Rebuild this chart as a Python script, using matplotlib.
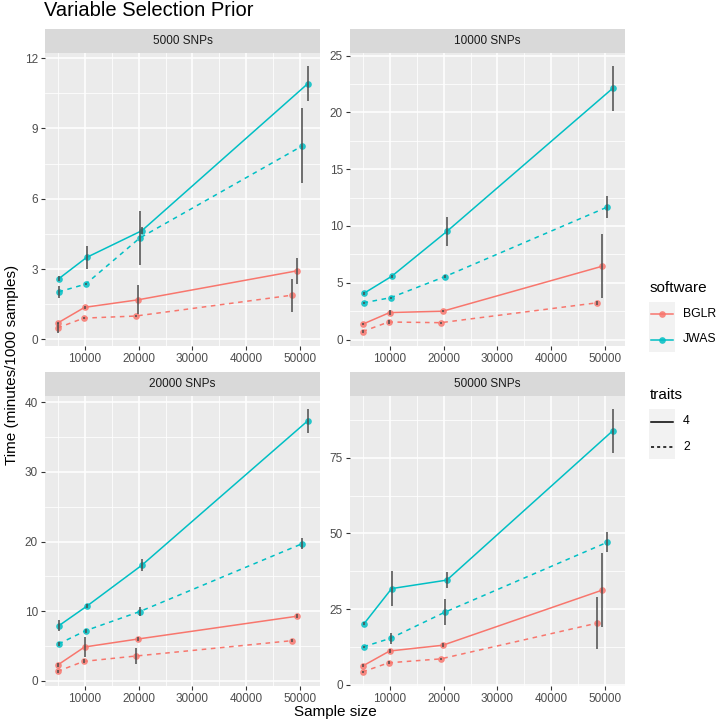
import numpy as np
import matplotlib.pyplot as plt
from matplotlib.lines import Line2D
from matplotlib.patches import Rectangle

plt.rcParams['font.family'] = ['Liberation Sans', 'DejaVu Sans']

# ── 데이터 ──────────────────────────────────────────
sample_size = [5000, 10000, 20000, 50000]
panel_titles = ['5000 SNPs', '10000 SNPs', '20000 SNPs', '50000 SNPs']

# rows = panels (5000, 10000, 20000, 50000 SNPs), cols = sample sizes
bglr_4_time = [[0.71, 1.37, 1.69, 2.93],
               [1.37, 2.38, 2.50, 6.46],
               [2.30, 4.86, 6.00, 9.28],
               [6.3, 11.2, 13.1, 31.3]]
bglr_4_err = [[0.05, 0.05, 0.62, 0.55],
              [0.10, 0.20, 0.10, 2.80],
              [0.30, 1.45, 0.30, 0.30],
              [0.5, 0.5, 0.6, 12.2]]
bglr_2_time = [[0.49, 0.91, 1.00, 1.89],
               [0.71, 1.55, 1.49, 3.24],
               [1.35, 2.79, 3.56, 5.77],
               [4.3, 7.3, 8.6, 20.4]]
bglr_2_err = [[0.20, 0.05, 0.05, 0.70],
              [0.10, 0.20, 0.10, 0.20],
              [0.20, 0.30, 1.15, 0.20],
              [0.3, 0.5, 0.3, 8.7]]
jwas_4_time = [[2.60, 3.50, 4.64, 10.90],
               [4.08, 5.57, 9.52, 22.10],
               [7.93, 10.70, 16.60, 37.30],
               [20.2, 31.8, 34.6, 83.8]]
jwas_4_err = [[0.10, 0.50, 0.15, 0.75],
              [0.15, 0.15, 1.25, 1.95],
              [0.75, 0.30, 0.90, 1.70],
              [0.5, 5.8, 2.7, 7.2]]
jwas_2_time = [[2.03, 2.36, 4.33, 8.26],
               [3.24, 3.69, 5.54, 11.67],
               [5.29, 7.20, 9.95, 19.70],
               [12.6, 15.4, 24.0, 47.1]]
jwas_2_err = [[0.25, 0.05, 1.14, 1.60],
              [0.10, 0.10, 0.15, 0.95],
              [0.30, 0.30, 0.65, 0.80],
              [0.3, 1.9, 4.3, 3.3]]

y_ticks = [[0, 3, 6, 9, 12], [0, 5, 10, 15, 20, 25],
           [0, 10, 20, 30, 40], [0, 25, 50, 75]]
x_ticks = [10000, 20000, 30000, 40000, 50000]

# ── 스타일 ──────────────────────────────────────────
W, H = 720, 725
col_bglr = '#F8766D'
col_jwas = '#00BFC4'
# (time, err, colour, linestyle, dodge index)
series = [
    (bglr_2_time, bglr_2_err, col_bglr, (0, (3, 3)), -1.5),
    (bglr_4_time, bglr_4_err, col_bglr, '-', -0.5),
    (jwas_2_time, jwas_2_err, col_jwas, (0, (3, 3)), 0.5),
    (jwas_4_time, jwas_4_err, col_jwas, '-', 1.5),
]
DODGE = 0.019
FS_TICK = 8.5
FS_TITLE = 11

def fx(px):
    return px / W

def fy(py):
    return 1 - py / H

def rect(l, t, r, b):
    return [fx(l), fy(b), (r - l) / W, (b - t) / H]

cols = [(45, 320), (350, 625)]
rows = [(53, 346), (396, 686)]
strip_h = 24

fig = plt.figure(figsize=(7.2, 7.25), dpi=100)

xs = np.array(sample_size, dtype=float)
all_x = np.concatenate([xs * (1 + k * DODGE) for *_, k in series])
xr = all_x.max() - all_x.min()
xlim = (all_x.min() - 0.05 * xr, all_x.max() + 0.05 * xr)

for i, title in enumerate(panel_titles):
    l, r = cols[i % 2]
    t, b = rows[i // 2]
    ax = fig.add_axes(rect(l, t, r, b))
    ax.set_facecolor('#EBEBEB')
    for s in ax.spines.values():
        s.set_visible(False)

    lo, hi = np.inf, -np.inf
    for times, errs, c, ls, k in series:
        x = xs * (1 + k * DODGE)
        y = np.array(times[i])
        e = np.array(errs[i])
        lo, hi = min(lo, (y - e).min()), max(hi, (y + e).max())
        ax.plot(x, y, color=c, ls=ls, lw=1.1, zorder=3)
        ax.plot(x, y, 'o', color=c, ms=4.8, alpha=0.85, mec='none', zorder=4)
        ax.errorbar(x, y, yerr=e, fmt='none', ecolor='#4d4d4d', elinewidth=1.3,
                    alpha=0.85, capsize=0, zorder=5)

    ax.set_xticks(x_ticks)
    ax.set_xticklabels([str(v) for v in x_ticks])
    yt = y_ticks[i]
    ax.set_yticks(yt)
    ax.set_yticklabels([str(v) for v in yt])
    step_x = x_ticks[1] - x_ticks[0]
    ax.set_xticks([x_ticks[0] - step_x / 2] + [v + step_x / 2 for v in x_ticks], minor=True)
    step_y = yt[1] - yt[0]
    ax.set_yticks([v + step_y / 2 for v in yt], minor=True)
    ax.set_xlim(xlim)
    pad = 0.05 * (hi - lo)
    ax.set_ylim(lo - pad, hi + pad)

    ax.grid(which='major', color='white', lw=1.1)
    ax.grid(which='minor', color='white', lw=0.55)
    ax.set_axisbelow(True)
    ax.tick_params(which='major', direction='out', length=3, width=0.8,
                   color='#333333', labelcolor='#4D4D4D', labelsize=FS_TICK, pad=2)
    ax.tick_params(which='minor', length=0)

    sax = fig.add_axes(rect(l, t - strip_h, r, t))
    sax.set_facecolor('#D9D9D9')
    sax.set_xticks([])
    sax.set_yticks([])
    for s in sax.spines.values():
        s.set_visible(False)
    sax.text(0.5, 0.5, title, ha='center', va='center', fontsize=FS_TICK,
             color='#1A1A1A', transform=sax.transAxes)

# 제목 / 축 제목
fig.text(fx(44), fy(1), 'Variable Selection Prior', fontsize=14.5,
         ha='left', va='top', color='black')
fig.text(fx(335), fy(712), 'Sample size', fontsize=FS_TITLE, ha='center', va='center')
fig.text(fx(12), fy(365), 'Time (minutes/1000 samples)', fontsize=FS_TITLE,
         ha='center', va='center', rotation=90)

# ── 범례 ────────────────────────────────────────────
def legend_block(title, ty, labels, kinds):
    fig.text(fx(650), fy(ty), title, fontsize=FS_TITLE, ha='left', va='center')
    for j, (lab, kind) in enumerate(zip(labels, kinds)):
        top = ty + 14 + 25 * j
        fig.patches.append(Rectangle((fx(649), fy(top + 25)), 26 / W, 25 / H,
                                     transform=fig.transFigure, facecolor='#F2F2F2',
                                     edgecolor='none'))
        cy = fy(top + 12.5)
        if kind in (col_bglr, col_jwas):
            fig.lines.append(Line2D([fx(651), fx(673)], [cy, cy], color=kind, lw=1.1,
                                    transform=fig.transFigure))
            fig.lines.append(Line2D([fx(662)], [cy], marker='o', color=kind, ms=4.8,
                                    mec='none', alpha=0.85, transform=fig.transFigure))
        else:
            fig.lines.append(Line2D([fx(651), fx(673)], [cy, cy], color='black', lw=1.1,
                                    ls=kind, transform=fig.transFigure))
        fig.text(fx(683), cy, lab, fontsize=8.8, ha='left', va='center')

legend_block('software', 288, ['BGLR', 'JWAS'], [col_bglr, col_jwas])
legend_block('traits', 395, ['4', '2'], ['-', (0, (2, 2))])

fig.savefig('out.png', dpi=100)
